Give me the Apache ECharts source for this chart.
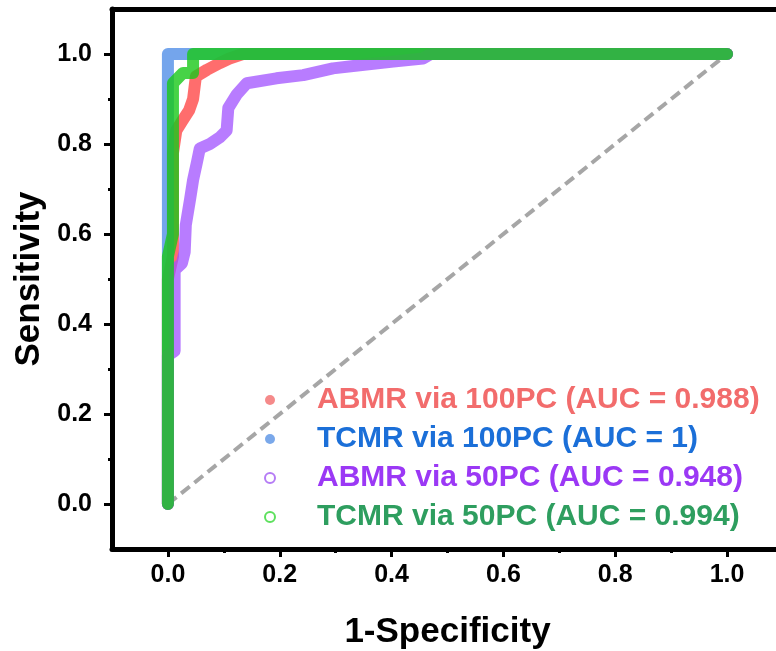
<!DOCTYPE html>
<html>
<head>
<meta charset="utf-8">
<script src="https://cdn.jsdelivr.net/npm/echarts@6/dist/echarts.min.js"></script>
<style>
	html, body { margin: 0; padding: 0; background: #fff; }
	#chart-roc { width: 776px; height: 651px; }
</style>
</head>
<body>
<div id="chart-roc"></div>
<script type="text/javascript">
// tick positions
var majorTicks = [0, 0.2, 0.4, 0.6, 0.8, 1.0];
var minorTicks = [0.1, 0.3, 0.5, 0.7, 0.9];

// legend names
var seriesNames = [
	'ABMR via 100PC (AUC = 0.988)',
	'TCMR via 100PC (AUC = 1)',
	'ABMR via 50PC (AUC = 0.948)',
	'TCMR via 50PC (AUC = 0.994)'
];

// [1-specificity, sensitivity]
var abmr100 = [[0, 0], [0, 0.5], [0.009, 0.55], [0.009, 0.78], [0.015, 0.83], [0.025, 0.85], [0.038, 0.875],
	[0.045, 0.9], [0.05, 0.95], [0.07, 0.965], [0.093, 0.98], [0.11, 0.99], [0.134, 1], [1, 1]];
var tcmr100 = [[0, 0], [0, 1], [1, 1]];
var abmr50 = [[0, 0], [0, 0.33], [0.012, 0.34], [0.012, 0.52], [0.025, 0.535], [0.03, 0.56], [0.032, 0.62],
	[0.04, 0.68], [0.045, 0.72], [0.052, 0.76], [0.057, 0.79], [0.075, 0.8], [0.093, 0.815], [0.105, 0.83],
	[0.108, 0.88], [0.123, 0.91], [0.141, 0.935], [0.194, 0.946], [0.242, 0.953], [0.295, 0.968],
	[0.343, 0.975], [0.403, 0.983], [0.456, 0.99], [0.47, 1], [1, 1]];
var tcmr50 = [[0, 0], [0, 0.55], [0.009, 0.6], [0.009, 0.935], [0.027, 0.958], [0.045, 0.958], [0.045, 1], [1, 1]];
var chance = [[0, 0], [1, 1]];

var font = '"Liberation Sans", Arial, sans-serif';
var lineColors = ['rgba(255,60,60,0.75)', 'rgba(70,135,230,0.75)', 'rgba(160,80,255,0.75)', 'rgba(25,200,25,0.8)'];
var textColors = ['#f26c6c', '#1b6fd8', '#9b38f5', '#2e9e5f'];
var iconColors = ['#f58a8a', '#7aa8ea', '#b57cf5', '#5ee05e'];

function tickFmt(v) { return v.toFixed(1); }

function mainAxis(pos, name) {
	var isX = pos === 'bottom';
	return {
		type: 'value', position: pos, min: -0.1, max: 1.1,
		name: name, nameLocation: 'middle', nameGap: isX ? 66 : 62,
		nameTextStyle: { fontFamily: font, fontSize: 35, fontWeight: 'bold', color: '#000' },
		axisLine: { show: true, onZero: false, lineStyle: { color: '#000', width: 5 } },
		axisTick: { show: true, inside: false, length: 8, customValues: majorTicks, lineStyle: { color: '#000', width: 3 } },
		axisLabel: { show: true, customValues: majorTicks, formatter: tickFmt, margin: isX ? 14 : 20,
			fontFamily: font, fontSize: 25, fontWeight: 'bold', color: '#000' },
		splitLine: { show: false }
	};
}
function minorAxis(pos) {
	return {
		type: 'value', position: pos, min: -0.1, max: 1.1,
		axisLine: { show: false, onZero: false },
		axisTick: { show: true, inside: false, length: 4, customValues: minorTicks, lineStyle: { color: '#000', width: 3 } },
		axisLabel: { show: false },
		splitLine: { show: false }
	};
}
function frameAxis(pos) {
	return {
		type: 'value', position: pos, min: -0.1, max: 1.1,
		axisLine: { show: true, onZero: false, lineStyle: { color: '#000', width: 5 } },
		axisTick: { show: false }, axisLabel: { show: false }, splitLine: { show: false }
	};
}

var curves = [abmr100, tcmr100, abmr50, tcmr50];
var series = [{
	type: 'line', name: 'chance', data: chance, showSymbol: false, silent: true,
	lineStyle: { color: '#a6a6a6', width: 4, type: [11, 6] }, z: 1
}];
var legendData = [];
for (var i = 0; i < curves.length; i++) {
	series.push({
		type: 'line', name: seriesNames[i], data: curves[i], showSymbol: false,
		lineStyle: { color: lineColors[i], width: 12, cap: 'round', join: 'round' },
		itemStyle: { color: lineColors[i] }, z: 2 + i
	});
	var hollow = i >= 2;
	legendData.push({
		name: seriesNames[i],
		icon: hollow ? 'emptyCircle' : 'circle',
		itemStyle: { color: iconColors[i], borderColor: iconColors[i], borderWidth: hollow ? 3 : 0 },
		textStyle: { color: textColors[i] }
	});
}

var option = {
	animation: false,
	backgroundColor: '#fff',
	grid: { left: 112, top: 9, width: 671, height: 540, outerBoundsMode: 'none', containLabel: false },
	legend: {
		orient: 'vertical', left: 259, top: 380, itemGap: 9,
		itemWidth: 10, itemHeight: 10, selectedMode: false,
		textStyle: { fontFamily: font, fontSize: 30, fontWeight: 'bold', lineHeight: 24, padding: [0, 0, 0, 37] },
		data: legendData
	},
	xAxis: [mainAxis('bottom', '1-Specificity'), minorAxis('bottom'), frameAxis('top')],
	yAxis: [mainAxis('left', 'Sensitivity'), minorAxis('left'), frameAxis('right')],
	series: series
};

var myChart = echarts.init(document.getElementById('chart-roc'));
myChart.setOption(option);
</script>
</body>
</html>
